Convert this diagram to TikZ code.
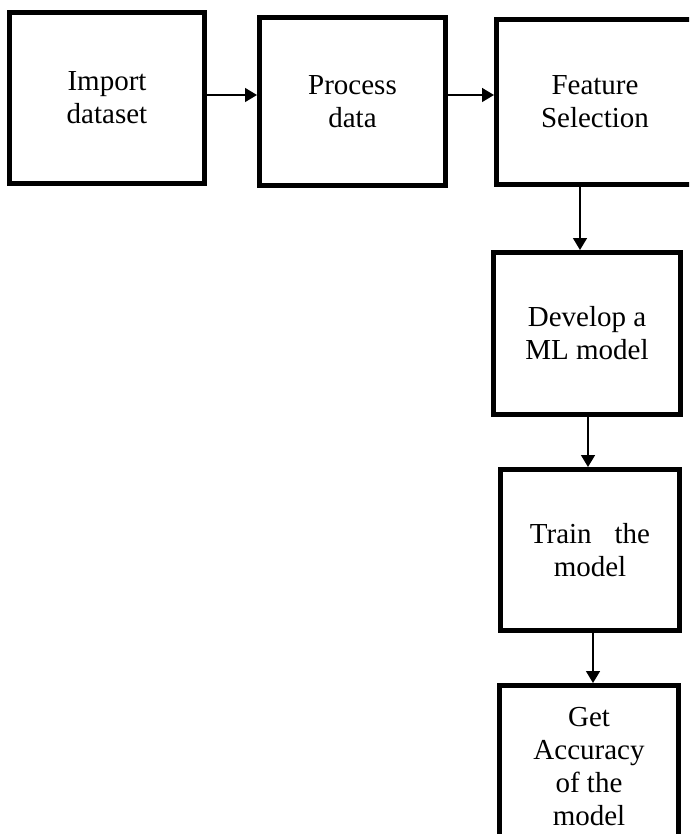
\documentclass[tikz,border=0pt]{standalone}
\usepackage{fontspec}
\setmainfont{Liberation Serif}
\usetikzlibrary{arrows.meta}
\begin{document}
\begin{tikzpicture}[x=1pt,y=1pt,
  box/.style={draw=black, line width=5pt, rectangle, inner sep=0pt, align=center,
    font=\fontsize{29}{33}\selectfont},
  arr/.style={draw=black, line width=1.5pt, -{Triangle[length=12pt,width=14pt]}}]
\useasboundingbox (0,0) rectangle (689,-834);
\clip (0,0) rectangle (689,-834);
\fill[white] (0,0) rectangle (689,-834);
\node[box, minimum width=195pt, minimum height=171pt] (imp) at (107,-98) {Import\\dataset};
\node[box, minimum width=186pt, minimum height=168pt] (proc) at (352.5,-101.5) {Process\\data};
\node[box, minimum width=197pt, minimum height=165pt] (feat) at (595,-102) {Feature\\Selection};
\node[box, minimum width=187pt, minimum height=162pt] (dev) at (587,-333.5) {Develop a\\ML model};
\node[box, minimum width=179pt, minimum height=161pt] (train) at (590,-550) {Train\hspace{23pt}the\\model};
\node[box, minimum width=179pt, minimum height=163pt] (acc) at (589,-767) {Get\\Accuracy\\of the\\model};
\draw[arr] (imp.east |- 0,-95) -- (proc.west |- 0,-95);
\draw[arr] (proc.east |- 0,-95) -- (feat.west |- 0,-95);
\draw[arr] (feat.south -| 580,0) -- (dev.north -| 580,0);
\draw[arr] (dev.south -| 588,0) -- (train.north -| 588,0);
\draw[arr] (train.south -| 593,0) -- (acc.north -| 593,0);
\end{tikzpicture}
\end{document}
